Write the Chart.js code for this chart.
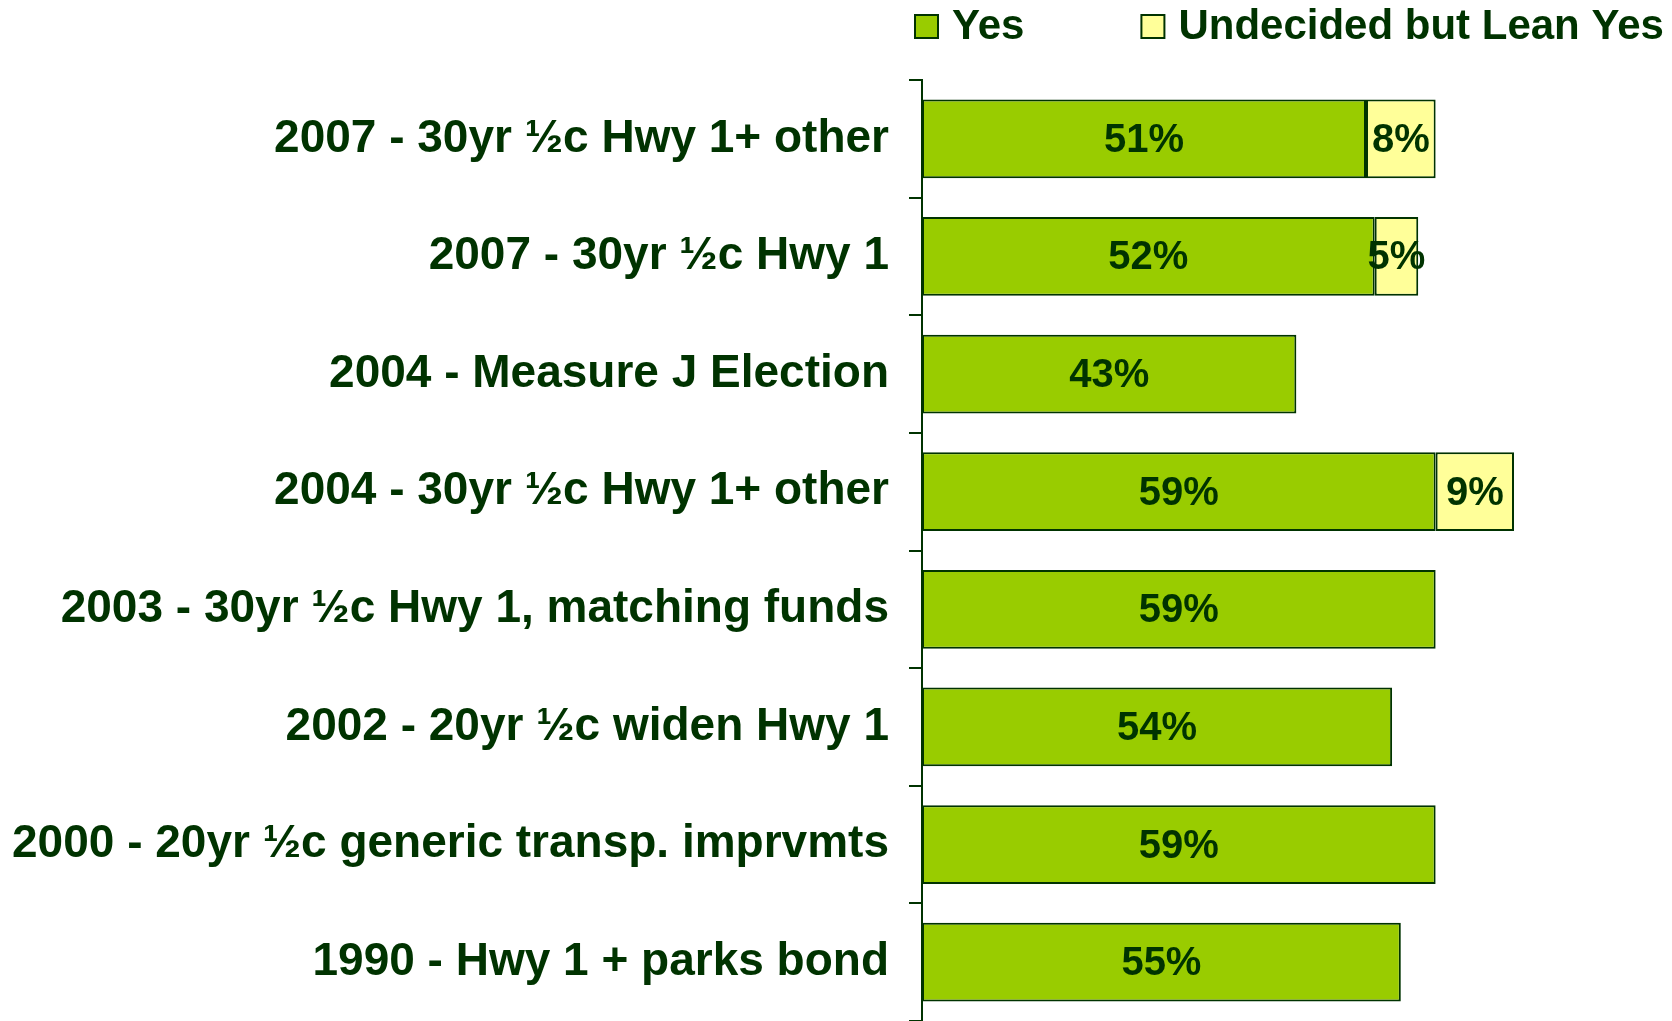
<!DOCTYPE html>
<html>
<head>
<meta charset="utf-8">
<script src="https://cdn.jsdelivr.net/npm/chart.js@4"></script>
<style>
  html, body { margin: 0; padding: 0; background: #ffffff; }
  #wrap { width: 1672px; height: 1021px; }
</style>
</head>
<body>
<div id="wrap"><canvas id="chart" width="1672" height="1021"></canvas></div>
<script>
const categories = [
  "2007 - 30yr \u00bdc Hwy 1+ other",
  "2007 - 30yr \u00bdc Hwy 1",
  "2004 - Measure J Election",
  "2004 - 30yr \u00bdc Hwy 1+ other",
  "2003 - 30yr \u00bdc Hwy 1, matching funds",
  "2002 - 20yr \u00bdc widen Hwy 1",
  "2000 - 20yr \u00bdc generic transp. imprvmts",
  "1990 - Hwy 1 + parks bond",
];
const yesValues = [51, 52, 43, 59, 59, 54, 59, 55];
const leanYesValues = [8, 5, null, 9, null, null, null, null];

const textColor = "#003300";
const fontFamily = "'Liberation Sans', Arial, sans-serif";

// Draws the percent labels in the middle of each bar segment
const barLabels = {
  id: "barLabels",
  afterDatasetsDraw(chart) {
    const ctx = chart.ctx;
    ctx.save();
    ctx.font = `bold 40px ${fontFamily}`;
    ctx.fillStyle = textColor;
    ctx.textAlign = "center";
    ctx.textBaseline = "middle";
    chart.data.datasets.forEach((ds, i) => {
      chart.getDatasetMeta(i).data.forEach((bar, j) => {
        const v = ds.data[j];
        if (v == null) return;
        const p = bar.getProps(["x", "y", "base"], true);
        ctx.fillText(`${v}%`, (p.x + p.base) / 2, p.y + 2);
      });
    });
    ctx.restore();
  },
};

// Legend drawn by hand: the built-in one can't space items this wide
const topLegend = {
  id: "topLegend",
  afterDraw(chart) {
    const ctx = chart.ctx;
    ctx.save();
    ctx.font = `bold 42px ${fontFamily}`;
    ctx.textBaseline = "middle";
    ctx.textAlign = "left";
    let x = 915;
    const y = 26;
    chart.data.datasets.forEach((ds) => {
      ctx.fillStyle = ds.backgroundColor;
      ctx.fillRect(x, y - 11, 23, 23);
      ctx.strokeStyle = textColor;
      ctx.lineWidth = 2;
      ctx.strokeRect(x, y - 11, 23, 23);
      ctx.fillStyle = textColor;
      ctx.fillText(ds.label, x + 37, y + 1);
      x += 37 + ctx.measureText(ds.label).width + 117;
    });
    ctx.restore();
  },
};

new Chart(document.getElementById("chart"), {
  type: "bar",
  data: {
    labels: categories,
    datasets: [
      {
        label: "Yes",
        data: yesValues,
        backgroundColor: "#99cc00",
        borderColor: textColor,
        borderWidth: 2,
        borderSkipped: false,
      },
      {
        label: "Undecided but Lean Yes",
        data: leanYesValues,
        backgroundColor: "#ffff99",
        borderColor: textColor,
        borderWidth: 2,
        borderSkipped: false,
      },
    ],
  },
  options: {
    indexAxis: "y",
    responsive: false,
    animation: false,
    layout: { autoPadding: false, padding: { left: 0, right: 10, top: 80, bottom: 0 } },
    datasets: {
      bar: { barPercentage: 0.67, categoryPercentage: 1 },
    },
    scales: {
      x: {
        stacked: true,
        min: 0,
        max: 85,
        display: false,
      },
      y: {
        stacked: true,
        border: { color: textColor, width: 2 },
        grid: {
          offset: true,
          drawOnChartArea: false,
          color: textColor,
          lineWidth: 2,
          tickLength: 13,
        },
        ticks: {
          color: textColor,
          padding: 20,
          font: { family: fontFamily, size: 46, weight: "bold" },
        },
        afterFit: (scale) => {
          scale.width = 922; // keep the axis where the original has it
          scale.paddingTop = 0;
          scale.paddingBottom = 0; // axis runs to the bottom edge
        },
      },
    },
    plugins: {
      tooltip: { enabled: false },
      legend: { display: false },
    },
  },
  plugins: [barLabels, topLegend],
});
</script>
</body>
</html>
